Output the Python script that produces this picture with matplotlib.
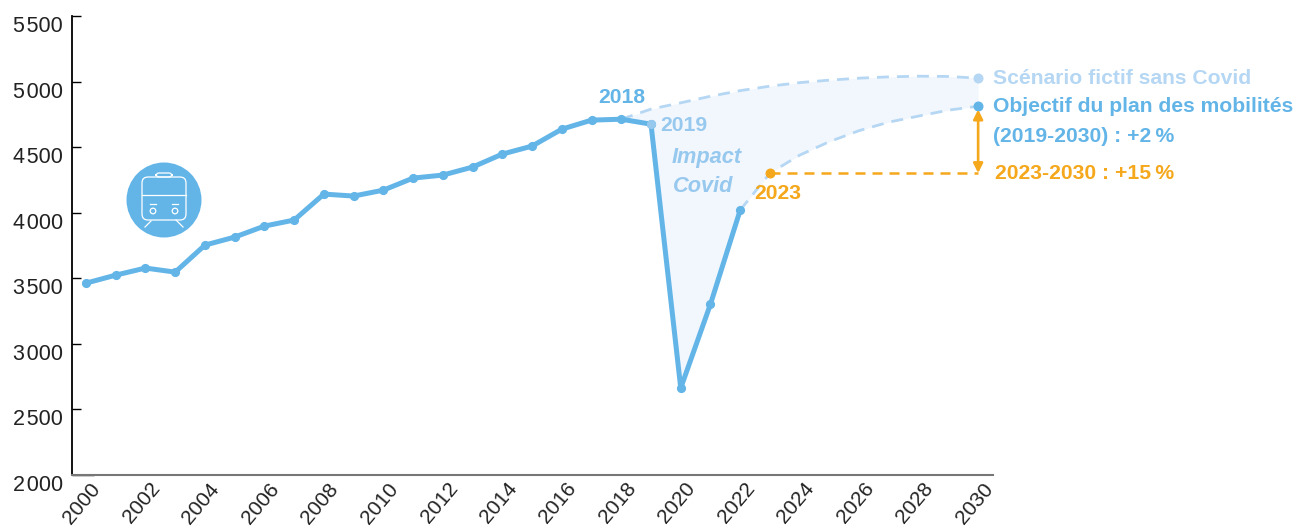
"""Rail traffic 2000-2030: observed series, no-Covid scenario and plan target."""
import matplotlib; matplotlib.use("Agg")
import matplotlib.pyplot as plt
from matplotlib.patches import Circle, FancyBboxPatch
from matplotlib.transforms import ScaledTranslation

plt.rcParams["font.family"] = ["Liberation Sans", "DejaVu Sans"]

BLU, PALE, FILL, ORA, INK, MID = "#63b5e8", "#b5d7f3", "#f2f7fe", "#f5a81c", "#222222", "#97c8ee"

years = list(range(2000, 2023))
traffic = [3463, 3524, 3578, 3547, 3753, 3814, 3898, 3944, 4142, 4127, 4172, 4264,
           4287, 4348, 4447, 4508, 4637, 4706, 4713, 4675, 2663, 3303, 4020]
scen_years = list(range(2018, 2031))
scenario = [4713, 4790, 4838, 4888, 4931, 4965, 4992, 5011, 5026, 5036, 5041, 5039, 5026]
goal_years = list(range(2022, 2031))
goal = [4020, 4302, 4439, 4542, 4626, 4691, 4737, 4782, 4812]
y_ticks = [2000, 2500, 3000, 3500, 4000, 4500, 5000, 5500]
y_labels = ["2\u200a000", "2\u200a500", "3\u200a000", "3\u200a500", "4\u200a000", "4\u200a500", "5\u200a000", "5\u200a500"]
x_ticks = list(range(2000, 2031, 2))


def draw_icon(fig):
    # train pictogram, in its own little axes (pixel box 126-202 x 162-238)
    a = fig.add_axes([126 / 1296, 1 - 238 / 531, 76 / 1296, 76 / 531])
    a.set_xlim(0, 76); a.set_ylim(76, 0); a.axis("off")
    a.add_patch(Circle((38, 38), 37.5, color=BLU, lw=0))
    w = dict(color="white", lw=.9)
    a.add_patch(FancyBboxPatch((16, 15), 44, 43, boxstyle="round,pad=0,rounding_size=6", fc="none", ec="white", lw=.9))
    a.add_patch(FancyBboxPatch((30, 11), 16, 4, boxstyle="round,pad=0,rounding_size=3", fc="none", ec="white", lw=.9))
    a.plot([16, 60], [33, 33], **w)
    a.plot([24, 30], [42, 42], **w); a.plot([46, 52], [42, 42], **w)
    a.add_patch(Circle((27, 49), 2.8, fc="none", ec="white", lw=.9))
    a.add_patch(Circle((49, 49), 2.8, fc="none", ec="white", lw=.9))
    a.plot([25, 19], [59, 65], **w); a.plot([50, 57], [58, 65], **w)


def main():
    fig = plt.figure(figsize=(12.96, 5.31), dpi=100, facecolor="white")
    ax = fig.add_axes([72 / 1296, 1 - 475 / 531, (993 - 72) / 1296, (475 - 16) / 531])
    ax.set_xlim(1999.53, 2030.5)
    ax.set_ylim(2000, 5500)

    # shaded gap between the no-Covid scenario and the observed/target path
    low = dict(zip(goal_years, goal))
    low.update({y: v for y, v in zip(years, traffic) if y >= 2018})
    ax.fill_between(scen_years, scenario, [low[y] for y in scen_years], color=FILL, lw=0, zorder=1)

    dash = dict(lw=2.0, dashes=(4.3, 2.9))
    ax.plot(scen_years, scenario, color=PALE, zorder=2, **dash)
    ax.plot(goal_years, goal, color=PALE, zorder=2, **dash)
    ax.plot(years, traffic, color=BLU, lw=3.6, marker="o", ms=5.6, zorder=4)
    ax.plot([2019], [traffic[19]], "o", color=MID, ms=5.6, zorder=5)
    ax.plot([2030], [scenario[-1]], "o", color=PALE, ms=6.2, zorder=5, clip_on=False)
    ax.plot([2030], [goal[-1]], "o", color=BLU, ms=6.2, zorder=5, clip_on=False)

    ax.plot([2023, 2030], [goal[1], goal[1]], color=ORA, lw=1.8, dashes=(4, 2.8), zorder=3)
    ax.plot([2023], [goal[1]], "o", color=ORA, ms=6.2, zorder=5)
    ax.annotate("", xy=(2030, goal[-1] - 25), xytext=(2030, goal[1]),
                arrowprops=dict(arrowstyle="<|-|>", color=ORA, lw=1.9, mutation_scale=14,
                                shrinkA=0, shrinkB=0), zorder=5)

    to_fig = lambda x, y: (x / 1296, 1 - y / 531)
    for x, y, s, c in [(598, 97.5, "2018", BLU), (660, 125.5, "2019", MID),
                       (754, 193.5, "2023", ORA),
                       (993, 78, "Scénario fictif sans Covid", PALE),
                       (993, 107, "Objectif du plan des mobilités", BLU),
                       (993, 136.5, "(2019-2030) : +2\u2009%", BLU),
                       (995, 173, "2023-2030 : +15\u2009%", ORA)]:
        fig.text(*to_fig(x, y), s, color=c, fontsize=15.2, fontweight="bold", va="center")
    for x, y, s in [(672, 157, "Impact"), (673, 186, "Covid")]:
        fig.text(*to_fig(x, y), s, color=MID, fontsize=15.7, fontweight="bold", fontstyle="italic", va="center")

    for sp in ["top", "right"]:
        ax.spines[sp].set_visible(False)
    ax.spines["left"].set_color("#000000"); ax.spines["left"].set_linewidth(1.3)
    ax.spines["bottom"].set_color("#777777"); ax.spines["bottom"].set_linewidth(1.5)

    ax.set_yticks(y_ticks, y_labels, fontsize=15.5, color=INK, va="top")
    ax.tick_params(axis="y", direction="in", length=6.5, width=1, pad=6.5)
    for i, t in enumerate(ax.yaxis.get_major_ticks()):
        t.tick1line.set_color("#777777" if i % 2 else "#111111")
    ax.yaxis.get_major_ticks()[0].tick1line.set_markersize(16)

    ax.set_xticks(x_ticks)
    ax.set_xticklabels([str(y) for y in x_ticks], rotation=50, ha="right", rotation_mode="anchor",
                       fontsize=15, color=INK)
    ax.tick_params(axis="x", length=0, pad=3)
    off = ScaledTranslation(4 / 100, 0, fig.dpi_scale_trans)
    for lab in ax.get_xticklabels():
        lab.set_transform(lab.get_transform() + off)

    draw_icon(fig)
    fig.savefig("out.png", dpi=100, facecolor="white")


if __name__ == "__main__":
    main()
